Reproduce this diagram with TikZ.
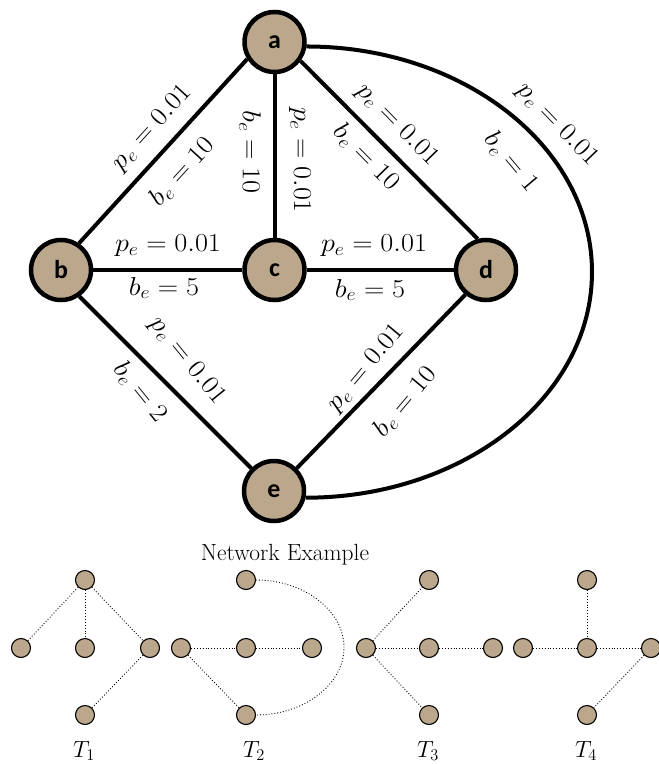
\RequirePackage{fix-cm}
\documentclass[tikz,border=0pt]{standalone}
\usepackage{fontspec}
\newfontfamily\carlito{Carlito}
\definecolor{nodefill}{RGB}{187,167,140}
\newcommand\lbl[1]{\scalebox{1.09}[1]{$#1$}}
\tikzset{
  big/.style={circle, draw, line width=4.5bp, fill=nodefill, minimum size=60bp, inner sep=0pt,
              font=\carlito\bfseries\fontsize{26}{30}\selectfont},
  small/.style={circle, draw, line width=1.1bp, fill=nodefill, minimum size=19bp, inner sep=0pt},
  edge/.style={line width=4bp},
  tedge/.style={line width=0.9bp, dotted},
  lab/.style={inner sep=0pt, font=\fontsize{26}{30}\selectfont},
  captext/.style={inner sep=0pt, font=\fontsize{23.5}{27}\selectfont, anchor=base}
}
\begin{document}
\begin{tikzpicture}[x=1bp,y=-1bp]
\clip (0,0) rectangle (659,764);
% main graph
\node[big] (a) at (274.5,42) {a};
\node[big] (b) at (61,270) {b};
\node[big] (c) at (274.5,270) {c};
\node[big] (d) at (486,270) {d};
\node[big] (e) at (274,491) {e};
\coordinate (cR) at (592,272);
\draw[edge] (a.212) -- (b.56);
\draw[edge] (a.south) -- (c.north);
\draw[edge] (a.324) -- (d.105);
\draw[edge] (b) -- (c);
\draw[edge] (c) -- (d);
\draw[edge] (b.-55) -- (e.135);
\draw[edge] (d.230) -- (e.45);
\draw[edge] (a.-8) .. controls +(157,0) and +(0,-125) .. (cR) .. controls +(0,125) and +(158,0) .. (e.-12);
% labels
\node[lab, rotate=47.6] (l1) at (152,128) {\lbl{p_e = 0.01}};
\node[lab, rotate=47.6] (l2) at (182,172) {\lbl{b_e = 10}};
\node[lab, rotate=-90] (l3) at (250,152) {\lbl{b_e = 10}};
\node[lab, rotate=-90] (l4) at (300,160) {\lbl{p_e = 0.01}};
\node[lab, rotate=-45.5] (l5) at (397,125) {\lbl{p_e = 0.01}};
\node[lab, rotate=-45.5] (l6) at (366,157) {\lbl{b_e = 10}};
\node[lab, rotate=-46] (l7) at (557,125) {\lbl{p_e = 0.01}};
\node[lab, rotate=-50] (l8) at (511,162) {\lbl{b_e = 1}};
\node[lab] (l9) at (168,246) {\lbl{p_e = 0.01}};
\node[lab] (l10) at (164,288) {\lbl{b_e = 5}};
\node[lab] (l11) at (374,246) {\lbl{p_e = 0.01}};
\node[lab] (l12) at (370,290) {\lbl{b_e = 5}};
\node[lab, rotate=-51] (l13) at (187,361) {\lbl{p_e = 0.01}};
\node[lab, rotate=-51] (l14) at (140,392) {\lbl{b_e = 2}};
\node[lab, rotate=50] (l15) at (366,368) {\lbl{p_e = 0.01}};
\node[lab, rotate=50] (l16) at (405,402) {\lbl{b_e = 10}};
\node[captext] (title) at (285,560) {Network Example};
% T1
\node[small] (t1t) at (85,580) {};
\node[small] (t1l) at (21,648) {};
\node[small] (t1m) at (85,648) {};
\node[small] (t1r) at (150,648) {};
\node[small] (t1b) at (85,715) {};
\draw[tedge] (t1t) -- (t1l);
\draw[tedge] (t1t) -- (t1m);
\draw[tedge] (t1t) -- (t1r);
\draw[tedge] (t1r) -- (t1b);
\node[captext] (T1) at (84,757) {$T_1$};
% T2
\node[small] (t2t) at (246,580) {};
\node[small] (t2l) at (181,648) {};
\node[small] (t2m) at (246,648) {};
\node[small] (t2r) at (312,648) {};
\node[small] (t2b) at (246,715) {};
\coordinate (t2c) at (344,647.5);
\draw[tedge] (t2l) -- (t2m);
\draw[tedge] (t2m) -- (t2r);
\draw[tedge] (t2l) -- (t2b);
\draw[tedge] (t2t.east) .. controls +(48,0) and +(0,-37) .. (t2c) .. controls +(0,37) and +(48,0) .. (t2b.east);
\node[captext] (T2) at (254,757) {$T_2$};
% T3
\node[small] (t3t) at (429,580) {};
\node[small] (t3l) at (366,648) {};
\node[small] (t3m) at (429,648) {};
\node[small] (t3r) at (493,648) {};
\node[small] (t3b) at (429,715) {};
\draw[tedge] (t3l) -- (t3t);
\draw[tedge] (t3l) -- (t3m);
\draw[tedge] (t3m) -- (t3r);
\draw[tedge] (t3l) -- (t3b);
\node[captext] (T3) at (428,757) {$T_3$};
% T4
\node[small] (t4t) at (587,580) {};
\node[small] (t4l) at (523,648) {};
\node[small] (t4m) at (587,648) {};
\node[small] (t4r) at (651,648) {};
\node[small] (t4b) at (587,715) {};
\draw[tedge] (t4t) -- (t4m);
\draw[tedge] (t4l) -- (t4m);
\draw[tedge] (t4m) -- (t4r);
\draw[tedge] (t4r) -- (t4b);
\node[captext] (T4) at (586,757) {$T_4$};
\end{tikzpicture}
\end{document}
